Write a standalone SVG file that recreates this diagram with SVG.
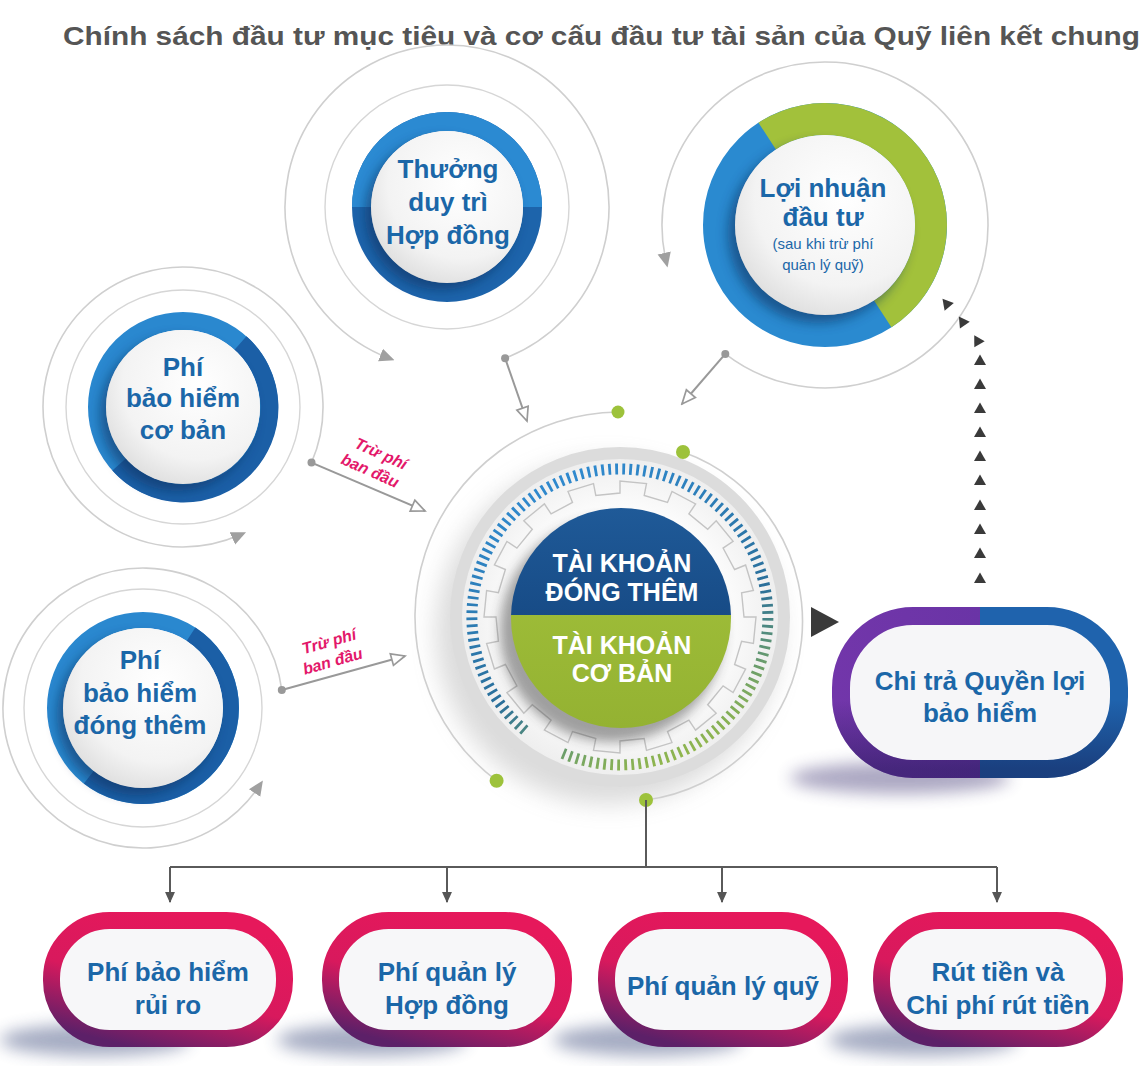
<svg xmlns="http://www.w3.org/2000/svg" width="1146" height="1066" viewBox="0 0 1146 1066">
<style>
.ttl{font-family:"Liberation Sans",Arial,sans-serif;font-weight:bold;font-size:26px;fill:#555}
.lbl{font-family:"Liberation Sans",Arial,sans-serif;font-weight:bold;fill:#1b67a8;text-anchor:middle}
.wt{font-family:"Liberation Sans",Arial,sans-serif;font-weight:bold;fill:#fff;text-anchor:middle;font-size:25px}
.pk{font-family:"Liberation Sans",Arial,sans-serif;font-weight:bold;font-style:italic;fill:#e3186a;text-anchor:middle;font-size:16px}
.arc{fill:none;stroke:#cfcfcf;stroke-width:1.6}
.ring{fill:none;stroke:#d6d6d6;stroke-width:1.4}
.conn{fill:none;stroke:#999;stroke-width:2}
.tree{fill:none;stroke:#5a5a5a;stroke-width:2}
.gdot{fill:#9dc23b}
.sdot{fill:#999}
.disc{fill:url(#wdisc)}
.shd{fill:#0c2d5c;opacity:.55;filter:url(#blur6)}
.pill{fill:#f7f7f9;stroke:url(#pinkG);stroke-width:17}
.bshd{fill:#3b4a7a;opacity:.45;filter:url(#blur8)}
.tri{fill:#3a3a3a}
</style>
<defs>
<filter id="blur6" x="-50%" y="-50%" width="200%" height="200%"><feGaussianBlur stdDeviation="6"/></filter>
<filter id="blur8" x="-50%" y="-50%" width="200%" height="200%"><feGaussianBlur stdDeviation="8"/></filter>
<filter id="blur12" x="-50%" y="-50%" width="200%" height="200%"><feGaussianBlur stdDeviation="12"/></filter>
<radialGradient id="wdisc" cx="0.6" cy="0.35" r="0.7"><stop offset="0" stop-color="#ffffff"/><stop offset="0.7" stop-color="#f3f3f3"/><stop offset="1" stop-color="#dedede"/></radialGradient>
<radialGradient id="gearbg" cx="0.5" cy="0.5" r="0.5"><stop offset="0.6" stop-color="#ffffff"/><stop offset="1" stop-color="#eeeeee"/></radialGradient>
<linearGradient id="blueTop" x1="0" y1="0" x2="0" y2="1"><stop offset="0" stop-color="#1f5a98"/><stop offset="1" stop-color="#0f3c74"/></linearGradient>
<linearGradient id="greenBot" x1="0" y1="0" x2="0" y2="1"><stop offset="0" stop-color="#a4c33c"/><stop offset="1" stop-color="#94b232"/></linearGradient>
<linearGradient id="tickG" gradientUnits="userSpaceOnUse" x1="560" y1="470" x2="700" y2="785"><stop offset="0" stop-color="#2f8ad0"/><stop offset="0.55" stop-color="#2a6f9a"/><stop offset="0.8" stop-color="#7aa860"/><stop offset="1" stop-color="#a6c43a"/></linearGradient>
<linearGradient id="pinkG" x1="0.7" y1="0" x2="0.2" y2="1"><stop offset="0" stop-color="#e6185b"/><stop offset="0.55" stop-color="#d8195d"/><stop offset="1" stop-color="#5c2068"/></linearGradient>
<linearGradient id="chiG" gradientUnits="userSpaceOnUse" x1="832" y1="0" x2="1128" y2="0"><stop offset="0" stop-color="#7236aa"/><stop offset="0.5" stop-color="#6a34a6"/><stop offset="0.5" stop-color="#1f63ad"/><stop offset="1" stop-color="#1f63ad"/></linearGradient>
<linearGradient id="chiDark" x1="0" y1="0" x2="0" y2="1"><stop offset="0" stop-color="#141446" stop-opacity="0"/><stop offset="0.55" stop-color="#141446" stop-opacity="0"/><stop offset="1" stop-color="#141446" stop-opacity="0.45"/></linearGradient>
<clipPath id="topHalf"><rect x="500" y="500" width="250" height="115"/></clipPath>
<clipPath id="botHalf"><rect x="500" y="615" width="250" height="120"/></clipPath>
<marker id="hollow" viewBox="0 0 20 20" refX="18" refY="10" markerWidth="17" markerHeight="17" markerUnits="userSpaceOnUse" orient="auto"><path d="M2,3 L18,10 L2,17 Z" fill="#fff" stroke="#999" stroke-width="2"/></marker>
<marker id="gtri" viewBox="0 0 10 10" refX="6" refY="5" markerWidth="15" markerHeight="15" markerUnits="userSpaceOnUse" orient="auto"><path d="M0,0.5 L10,5 L0,9.5 Z" fill="#a0a0a0"/></marker>
<marker id="dn" viewBox="0 0 10 10" refX="9" refY="5" markerWidth="11" markerHeight="11" markerUnits="userSpaceOnUse" orient="auto"><path d="M0,0.5 L10,5 L0,9.5 Z" fill="#555"/></marker>
<path id="up" d="M0,-5.5 L6,5 L-6,5 Z"/>
</defs>
<rect width="1146" height="1066" fill="#fff"/>

<text class="ttl" x="63" y="45" textLength="1077" lengthAdjust="spacingAndGlyphs">Chính sách đầu tư mục tiêu và cơ cấu đầu tư tài sản của Quỹ liên kết chung</text>

<g id="arcs">
<circle class="ring" cx="447" cy="207" r="122"/>
<circle class="ring" cx="183" cy="407" r="117"/>
<circle class="ring" cx="143" cy="708" r="119"/>
<path class="arc" d="M505.1,358.2 A162,162 0 1 0 388.9,358.2" marker-end="url(#gtri)"/>
<path class="arc" d="M311.5,462.6 A140,140 0 1 0 240.6,534.6" marker-end="url(#gtri)"/>
<path class="arc" d="M281.8,690 A140,140 0 1 0 259.6,785.5" marker-end="url(#gtri)"/>
<path class="arc" d="M725.3,353.9 A163,163 0 1 0 666.2,261.7" marker-end="url(#gtri)"/>
</g>

<g id="node-thuong">
<circle cx="447" cy="207" r="85.5" fill="none" stroke="#1d64ab" stroke-width="19"/>
<path d="M361.5,207 A85.5,85.5 0 0 1 532.5,207" fill="none" stroke="#2b8ad2" stroke-width="19"/>
<circle class="shd" cx="441" cy="214" r="76"/>
<circle class="disc" cx="447" cy="207" r="76"/>
<text class="lbl" font-size="26" x="448" y="178">Thưởng</text>
<text class="lbl" font-size="26" x="448" y="211">duy trì</text>
<text class="lbl" font-size="26" x="448" y="244">Hợp đồng</text>
</g>

<g id="node-loinhuan">
<circle cx="825" cy="225" r="106" fill="none" stroke="#2a8ad0" stroke-width="32"/>
<path d="M767.2,136.1 A106,106 0 0 1 882.7,313.9" fill="none" stroke="#a2c13b" stroke-width="32"/>
<circle class="shd" cx="818" cy="233" r="90"/>
<circle class="disc" cx="825" cy="225" r="90"/>
<text class="lbl" font-size="26" x="823" y="197">Lợi nhuận</text>
<text class="lbl" font-size="26" x="823" y="226">đầu tư</text>
<text class="lbl" font-size="15" x="823" y="249" style="font-weight:normal">(sau khi trừ phí</text>
<text class="lbl" font-size="15" x="823" y="270" style="font-weight:normal">quản lý quỹ)</text>
</g>

<g id="node-coban">
<circle cx="183" cy="407" r="86" fill="none" stroke="#2a88cf" stroke-width="18"/>
<path d="M240.5,343.1 A86,86 0 1 1 119.1,464.5" fill="none" stroke="#1b5fa6" stroke-width="18"/>
<circle class="shd" cx="177" cy="414" r="77"/>
<circle class="disc" cx="183" cy="407" r="77"/>
<text class="lbl" font-size="26" x="183" y="376">Phí</text>
<text class="lbl" font-size="26" x="183" y="407">bảo hiểm</text>
<text class="lbl" font-size="26" x="183" y="439">cơ bản</text>
</g>

<g id="node-dongthem">
<circle cx="143" cy="708" r="88" fill="none" stroke="#2a88cf" stroke-width="16"/>
<path d="M191,634.2 A88,88 0 1 1 88.8,777.3" fill="none" stroke="#1b5fa6" stroke-width="16"/>
<circle class="shd" cx="137" cy="715" r="80"/>
<circle class="disc" cx="143" cy="708" r="80"/>
<text class="lbl" font-size="26" x="140" y="669">Phí</text>
<text class="lbl" font-size="26" x="140" y="702">bảo hiểm</text>
<text class="lbl" font-size="26" x="140" y="734">đóng thêm</text>
</g>

<g id="node-center">
<circle cx="608" cy="632" r="172" fill="#9a9a9a" opacity="0.35" filter="url(#blur12)"/>
<circle cx="620" cy="617" r="160" fill="url(#gearbg)"/>
<circle cx="620" cy="617" r="164" fill="none" stroke="#dcdcdc" stroke-width="12"/>
<path d="M524.9,730.4 A148,148 0 1 1 562.2,753.2" fill="none" stroke="url(#tickG)" stroke-width="11" stroke-dasharray="2.8 4.2"/>
<path transform="translate(620,617)" fill="none" stroke="#c4c4c4" stroke-width="1.4" d="M124,0 L136,0 L133.4,26.5 L121.6,24.2 L114.6,47.5 L125.6,52 L113.1,75.6 L103.1,68.9 L87.7,87.7 L96.2,96.2 L75.6,113.1 L68.9,103.1 L47.5,114.6 L52,125.6 L26.5,133.4 L24.2,121.6 L0,124 L0,136 L-26.5,133.4 L-24.2,121.6 L-47.5,114.6 L-52,125.6 L-75.6,113.1 L-68.9,103.1 L-87.7,87.7 L-96.2,96.2 L-113.1,75.6 L-103.1,68.9 L-114.6,47.5 L-125.6,52 L-133.4,26.5 L-121.6,24.2 L-124,0 L-136,0 L-133.4,-26.5 L-121.6,-24.2 L-114.6,-47.5 L-125.6,-52 L-113.1,-75.6 L-103.1,-68.9 L-87.7,-87.7 L-96.2,-96.2 L-75.6,-113.1 L-68.9,-103.1 L-47.5,-114.6 L-52,-125.6 L-26.5,-133.4 L-24.2,-121.6 L0,-124 L0,-136 L26.5,-133.4 L24.2,-121.6 L47.5,-114.6 L52,-125.6 L75.6,-113.1 L68.9,-103.1 L87.7,-87.7 L96.2,-96.2 L113.1,-75.6 L103.1,-68.9 L114.6,-47.5 L125.6,-52 L133.4,-26.5 L121.6,-24.2 Z"/>
<circle cx="612" cy="630" r="112" fill="#333" opacity="0.45" filter="url(#blur6)"/>
<circle cx="621" cy="618" r="110" fill="url(#blueTop)" clip-path="url(#topHalf)"/>
<circle cx="621" cy="618" r="110" fill="url(#greenBot)" clip-path="url(#botHalf)"/>
<text class="wt" x="622" y="572">TÀI KHOẢN</text>
<text class="wt" x="622" y="601">ĐÓNG THÊM</text>
<text class="wt" x="622" y="654">TÀI KHOẢN</text>
<text class="wt" x="622" y="682">CƠ BẢN</text>
<path class="arc" d="M618,412 A205,205 0 0 0 496.6,780.7"/>
<path class="arc" d="M683,452 A180,180 0 0 1 646,800"/>
<circle class="gdot" cx="618" cy="412" r="6.5"/>
<circle class="gdot" cx="683" cy="452" r="7"/>
<circle class="gdot" cx="496.6" cy="780.7" r="7"/>
<circle class="gdot" cx="646" cy="800" r="7"/>
</g>

<g id="node-chitra">
<ellipse cx="900" cy="778" rx="110" ry="16" fill="#4a3f7a" opacity="0.45" filter="url(#blur8)"/>
<rect x="841" y="616" width="278" height="153" rx="72" fill="#f6f6f8" stroke="url(#chiG)" stroke-width="18"/>
<rect x="841" y="616" width="278" height="153" rx="72" fill="none" stroke="url(#chiDark)" stroke-width="18"/>
<text class="lbl" font-size="26" x="980" y="690">Chi trả Quyền lợi</text>
<text class="lbl" font-size="26" x="980" y="722">bảo hiểm</text>
</g>

<g id="node-ruiro">
<ellipse cx="95" cy="1040" rx="95" ry="16" class="bshd"/>
<rect class="pill" x="51.5" y="920.5" width="233" height="118" rx="58"/>
<text class="lbl" font-size="26" x="168" y="981">Phí bảo hiểm</text>
<text class="lbl" font-size="26" x="168" y="1014">rủi ro</text>
</g>
<g id="node-qlhd">
<ellipse cx="372" cy="1040" rx="95" ry="16" class="bshd"/>
<rect class="pill" x="330.5" y="920.5" width="233" height="118" rx="58"/>
<text class="lbl" font-size="26" x="447" y="981">Phí quản lý</text>
<text class="lbl" font-size="26" x="447" y="1014">Hợp đồng</text>
</g>
<g id="node-qlq">
<ellipse cx="648" cy="1040" rx="95" ry="16" class="bshd"/>
<rect class="pill" x="606.5" y="920.5" width="233" height="118" rx="58"/>
<text class="lbl" font-size="26" x="723" y="995">Phí quản lý quỹ</text>
</g>
<g id="node-ruttien">
<ellipse cx="923" cy="1040" rx="95" ry="16" class="bshd"/>
<rect class="pill" x="881.5" y="920.5" width="233" height="118" rx="58"/>
<text class="lbl" font-size="26" x="998" y="981">Rút tiền và</text>
<text class="lbl" font-size="26" x="998" y="1014">Chi phí rút tiền</text>
</g>

<g id="connectors">
<circle class="sdot" cx="505.1" cy="358.2" r="4"/>
<path class="conn" d="M505.1,358.2 L527,421" marker-end="url(#hollow)"/>
<circle class="sdot" cx="725.3" cy="353.9" r="4"/>
<path class="conn" d="M725.3,353.9 L682,404" marker-end="url(#hollow)"/>
<circle class="sdot" cx="311.5" cy="462.6" r="4"/>
<path class="conn" d="M311.5,462.6 L425,511" marker-end="url(#hollow)"/>
<circle class="sdot" cx="281.8" cy="690" r="4"/>
<path class="conn" d="M281.8,690 L405,656" marker-end="url(#hollow)"/>
<g transform="translate(374,462) rotate(24)">
<text class="pk" x="3" y="-5">Trừ phí</text>
<text class="pk" x="0" y="15">ban đầu</text>
</g>
<g transform="translate(330,652) rotate(-16)">
<text class="pk" x="2" y="-5">Trừ phí</text>
<text class="pk" x="0" y="15">ban đầu</text>
</g>
<path class="tree" d="M646,800 L646,867 M170,867 L997,867"/>
<path class="tree" d="M170,867 L170,902" marker-end="url(#dn)"/>
<path class="tree" d="M447,867 L447,902" marker-end="url(#dn)"/>
<path class="tree" d="M722,867 L722,902" marker-end="url(#dn)"/>
<path class="tree" d="M997,867 L997,902" marker-end="url(#dn)"/>
<path class="tri" d="M811,607 L839,622 L811,637 Z"/>
<g class="tri">
<use href="#up" x="980" y="578"/>
<use href="#up" x="980" y="553"/>
<use href="#up" x="980" y="529"/>
<use href="#up" x="980" y="505"/>
<use href="#up" x="980" y="480"/>
<use href="#up" x="980" y="456"/>
<use href="#up" x="980" y="432"/>
<use href="#up" x="980" y="408"/>
<use href="#up" x="980" y="384"/>
<use href="#up" x="980" y="360"/>
<use href="#up" transform="translate(977,340) rotate(-30)"/>
<use href="#up" transform="translate(962,321) rotate(-35)"/>
<use href="#up" transform="translate(946,303) rotate(-40)"/>
</g>
</g>
</svg>
